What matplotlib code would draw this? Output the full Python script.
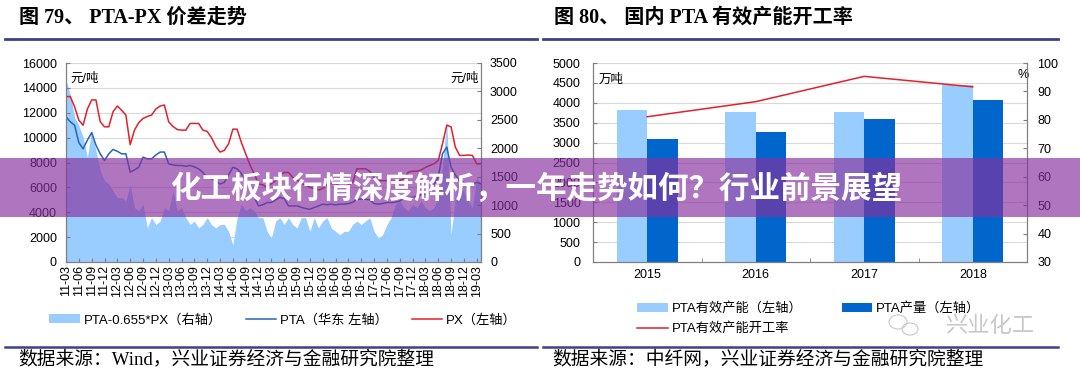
import matplotlib
matplotlib.use("Agg")
import matplotlib.pyplot as plt
import matplotlib.transforms as mtransforms
from matplotlib.patches import Patch, Rectangle, Ellipse
from matplotlib.lines import Line2D
import numpy as np
import pandas as pd

SANS = ["Liberation Sans", "Noto Sans CJK SC"]
SERIF = ["Liberation Serif", "Noto Sans CJK SC"]
plt.rcParams["font.family"] = SANS

# ---- figure 79: PTA-PX spread, monthly from 2011-03 ----
months = pd.date_range("2011-03-01", periods=98, freq="MS")
month_labels = [d.strftime("%y-%m") for d in months]

px = [13300, 13300, 12490, 11400, 11000, 12300, 13030, 13030, 11270, 10870,
      10870, 12080, 12540, 12200, 11810, 9430, 10600, 11200, 11540, 11700,
      11810, 12300, 12540, 12620, 11270, 10900, 10650, 10600, 10600, 11140,
      11140, 11140, 10600, 10500, 10000, 9300, 8840, 8970, 9500, 10680,
      10680, 9600, 8700, 7800, 7080, 6270, 6200, 6000, 6300, 6545,
      7000, 7200, 7200, 6800, 6600, 6300, 6200, 6000, 5900, 5800,
      5900, 6200, 6300, 6300, 6100, 6000, 6200, 6400, 7490, 7490,
      7490, 7300, 6810, 6540, 6540, 6540, 6500, 6500, 6540, 6700,
      7220, 7300, 7300, 7400, 7600, 7760, 7900, 8160, 9500, 11000,
      10870, 9240, 8570, 8570, 8600, 8570, 7890, 7900]

pta = [11680, 11270, 11000, 9600, 9100, 9800, 10400, 9400, 8700, 8160,
       8700, 9050, 8900, 8700, 8700, 7220, 7400, 7620, 8430, 8300,
       8300, 8600, 8840, 8840, 7890, 7800, 7760, 7760, 7700, 7760,
       7650, 7490, 7200, 6810, 6700, 6500, 6270, 6400, 7000, 7620,
       7490, 7100, 6540, 6000, 5190, 4510, 4600, 4780, 4780, 5000,
       5190, 5100, 4510, 4510, 4510, 4400, 4300, 4240, 4380, 4500,
       4650, 4600, 4650, 4600, 4650, 4650, 4700, 4800, 5050, 5050,
       5050, 5000, 4700, 4650, 4700, 4780, 4780, 4800, 4900, 5100,
       5190, 5200, 5300, 5400, 5460, 5500, 6200, 6810, 8700, 9240,
       7620, 7000, 6540, 6400, 6270, 6300, 6400, 6300]

spread = [3200, 2950, 2550, 2400, 2200, 1840, 2320, 1960, 1610, 1430,
          1370, 1250, 1135, 1135, 1076, 1370, 958, 900, 1017, 603,
          780, 660, 720, 958, 900, 1250, 900, 958, 780, 660,
          720, 600, 660, 780, 660, 600, 660, 660, 540, 300,
          780, 1017, 900, 958, 900, 780, 780, 540, 420, 720,
          780, 660, 780, 660, 600, 780, 780, 540, 780, 600,
          720, 780, 600, 540, 480, 540, 540, 660, 720, 660,
          720, 780, 540, 420, 480, 660, 780, 1017, 1076, 958,
          900, 1017, 958, 1076, 958, 900, 958, 1135, 1670, 2500,
          480, 1135, 1370, 1250, 1076, 958, 1490, 1370]

# ---- figure 80: PTA capacity utilisation ----
years = ["2015", "2016", "2017", "2018"]
capacity = [3820, 3775, 3767, 4450]
output = [3100, 3270, 3590, 4070]
util_rate = [81.1, 86.4, 95.3, 91.6]

LIGHT = "#99ccff"
DARK = "#0066cc"
RED = "#e3202b"
BLUE = "#2566b8"
SPINE = "#7f7f7f"
GRID = "#d9d9d9"
NAVY = "#3f3f8f"

W, H = 1080, 376
fig = plt.figure(figsize=(W / 100, H / 100), dpi=100)


def fx(px_):
    return px_ / W


def fy(py_):
    return 1 - py_ / H


def style_spines(a):
    a.spines["top"].set_visible(False)
    for s in ("left", "right", "bottom"):
        a.spines[s].set_color(SPINE)
        a.spines[s].set_linewidth(0.8)


# ================= left chart =================
ax = fig.add_axes([fx(66), fy(262), fx(415), 199 / H])
ax2 = ax.twinx()
ax.set_zorder(ax2.get_zorder() + 1)
ax.patch.set_visible(False)

x = np.arange(len(months))
ax2.fill_between(x, spread, color=LIGHT, lw=0, zorder=1)
blend = mtransforms.blended_transform_factory(ax2.transAxes, ax.transData)
ax2.hlines(np.arange(2000, 16001, 2000), 0, 1, transform=blend,
           color=GRID, lw=0.8, zorder=0)
ax.plot(x, pta, color=BLUE, lw=1.1)
ax.plot(x, px, color=RED, lw=1.1)

ax.set_xlim(0, len(months) - 1)
ax.set_ylim(0, 16000)
ax2.set_ylim(0, 3500)
ax.set_yticks(np.arange(0, 16001, 2000))
ax2.set_yticks(np.arange(0, 3501, 500))
ax.set_xticks(x[::3])
ax.set_xticklabels(month_labels[::3], rotation=90)
ax.tick_params(axis="y", direction="in", length=3, labelsize=9, pad=6.5,
               color=SPINE)
ax2.tick_params(axis="y", direction="in", length=3, labelsize=9, pad=6.5,
                color=SPINE)
ax.tick_params(axis="x", direction="in", length=3, labelsize=9, pad=2,
               color=SPINE)
style_spines(ax)
style_spines(ax2)
ax.text(0.01, 0.92, "元/吨", transform=ax.transAxes, fontsize=9,
        ha="left", va="center")
ax.text(0.995, 0.92, "元/吨", transform=ax.transAxes, fontsize=9,
        ha="right", va="center")

h1 = [Patch(color=LIGHT, lw=0),
      Line2D([], [], color=BLUE, lw=1.1),
      Line2D([], [], color=RED, lw=1.1)]
l1 = ["PTA-0.655*PX（右轴）", "PTA（华东 左轴）", "PX（左轴）"]
fig.legend(h1, l1, loc="center left", bbox_to_anchor=(fx(44), fy(320)),
           ncol=3, frameon=False, fontsize=9.5, handlelength=2.3,
           handletextpad=0.3, columnspacing=1.8, borderaxespad=0)

# ================= right chart =================
ax3 = fig.add_axes([fx(593), fy(262), fx(434), 199 / H])
ax4 = ax3.twinx()
xc = np.arange(len(years))
bw = 0.28
ax3.bar(xc - bw / 2, capacity, width=bw, color=LIGHT, zorder=2)
ax3.bar(xc + bw / 2, output, width=bw, color=DARK, zorder=2)
ax3.set_axisbelow(True)
ax3.yaxis.grid(True, color=GRID, lw=0.8)
ax4.plot(xc, util_rate, color=RED, lw=1.1)

ax3.set_xlim(-0.5, 3.5)
ax3.set_ylim(0, 5000)
ax4.set_ylim(30, 100)
ax3.set_yticks(np.arange(0, 5001, 500))
ax4.set_yticks(np.arange(30, 101, 10))
ax3.set_xticks(xc)
ax3.set_xticklabels(years)
ax3.set_xticks([0.5, 1.5, 2.5], minor=True)
ax3.tick_params(axis="x", which="major", length=0, labelsize=9, pad=5)
ax3.tick_params(axis="x", which="minor", direction="in", length=3,
                color=SPINE)
ax3.tick_params(axis="y", direction="in", length=3, labelsize=9, pad=9,
                color=SPINE)
ax4.tick_params(axis="y", direction="in", length=3, labelsize=9, pad=7.5,
                color=SPINE)
style_spines(ax3)
style_spines(ax4)
ax3.text(0.013, 0.915, "万吨", transform=ax3.transAxes, fontsize=9,
         ha="left", va="center")
ax3.text(0.99, 0.94, "%", transform=ax3.transAxes, fontsize=9,
         ha="center", va="center")

h2 = [Patch(color=LIGHT, lw=0), Line2D([], [], color=RED, lw=1.1),
      Patch(color=DARK, lw=0)]
l2 = ["PTA有效产能（左轴）", "PTA有效产能开工率", "PTA产量（左轴）"]
fig.legend(h2, l2, loc="upper left", bbox_to_anchor=(fx(632), fy(297)),
           ncol=2, frameon=False, fontsize=9.5, handlelength=2.3,
           handletextpad=0.3, columnspacing=3.0, labelspacing=0.55,
           borderaxespad=0)

# watermark
fig.text(fx(990), fy(326), "兴业化工", fontsize=16, color="#c8c8c8",
         ha="center", va="center", family=["Noto Sans CJK SC"])
fig.patches.append(Ellipse((fx(898), fy(322)), fx(18), 14 / H,
                           transform=fig.transFigure, fill=False,
                           ec="#c8c8c8", lw=0.8))
fig.patches.append(Ellipse((fx(910), fy(329)), fx(16), 12 / H,
                           transform=fig.transFigure, fill=False,
                           ec="#c8c8c8", lw=0.8))

# ================= headers, rules, sources =================
fig.text(fx(19), fy(18), "图 79、 PTA-PX 价差走势", fontsize=14.5,
         family=SERIF, weight="bold", ha="left", va="center")
fig.text(fx(554), fy(18), "图 80、 国内 PTA 有效产能开工率", fontsize=14.5,
         family=SERIF, weight="bold", ha="left", va="center")
for x0, x1 in ((5, 537), (543, 1058)):
    fig.add_artist(Line2D([fx(x0), fx(x1)], [fy(38.5), fy(38.5)],
                          color=NAVY, lw=2.0))
    fig.add_artist(Line2D([fx(x0), fx(x1)], [fy(346.5), fy(346.5)],
                          color=NAVY, lw=1.8))
fig.text(fx(18), fy(359), "数据来源：Wind，兴业证券经济与金融研究院整理",
         fontsize=13.5, family=SERIF, ha="left", va="center")
fig.text(fx(552), fy(359), "数据来源：中纤网，兴业证券经济与金融研究院整理",
         fontsize=13.5, family=SERIF, ha="left", va="center")

# ================= banner overlay =================
fig.patches.append(Rectangle((0, fy(217)), 1, 59 / H,
                             transform=fig.transFigure, color="#86309f",
                             alpha=0.66, lw=0, zorder=10))
fig.text(fx(536), fy(189), "化工板块行情深度解析，一年走势如何？行业前景展望",
         fontsize=22, weight="bold", color="white", ha="center",
         va="center", family=["Noto Sans CJK SC"], zorder=11)

fig.savefig("out.png", dpi=100)
